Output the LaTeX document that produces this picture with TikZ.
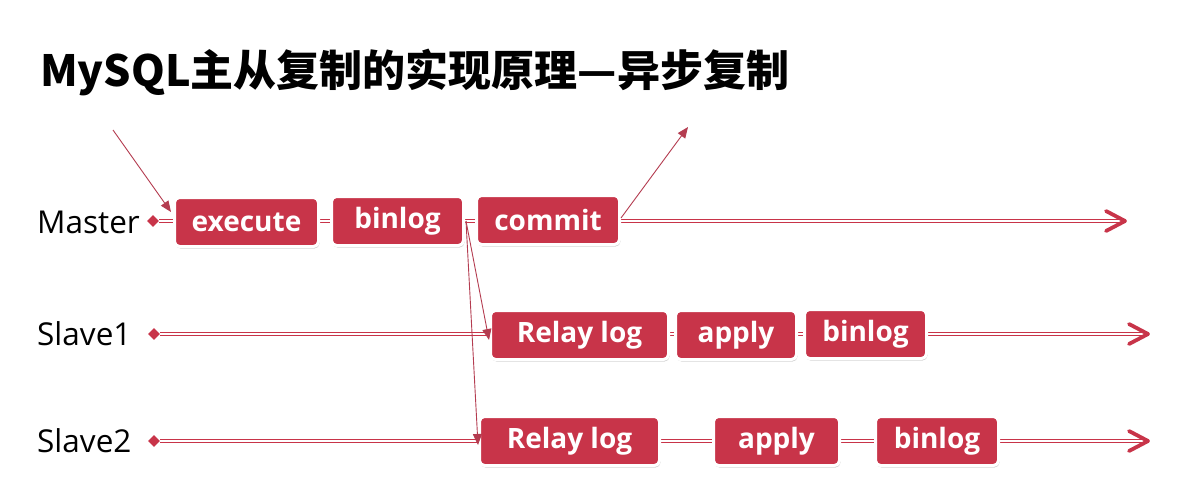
\documentclass[tikz,border=0pt]{standalone}
\usepackage{fontspec}
\setmainfont{Open Sans}
\newfontfamily\cjk{Noto Sans CJK SC}
\usetikzlibrary{shapes.geometric,shadows,arrows.meta}
\definecolor{myred}{RGB}{200,52,73}
\definecolor{thinred}{RGB}{180,60,80}
\tikzset{
  box/.style={rectangle, rounded corners=5pt, fill=myred, draw=white, line width=3pt,
    text=white, font=\fontsize{28}{30}\selectfont\bfseries, minimum height=49pt, inner sep=0pt,
    drop shadow={shadow xshift=1pt, shadow yshift=-2pt, opacity=0.3, fill=black!60}},
  timeline/.style={draw=myred, line width=1.5pt, double=white, double distance=1.6pt},
  chevron/.style={draw=myred, line width=3.8pt, line cap=round, line join=round},
  thinarrow/.style={draw=thinred, line width=0.9pt, -{Triangle[length=11pt,width=9pt]}},
  dia/.style={diamond, fill=myred, inner sep=0pt, minimum width=12pt, minimum height=12pt},
  rowlabel/.style={anchor=base west, font=\fontsize{31.5}{36}\selectfont, inner sep=0pt},
}
\begin{document}
\begin{tikzpicture}[x=1pt,y=-1pt]
\fill[white] (0,0) rectangle (1183,480);
\useasboundingbox (0,0) rectangle (1183,480);

\node[anchor=base west, inner sep=0pt, font=\cjk\bfseries\fontsize{43}{50}\selectfont] (title) at (40,86) {MySQL主从复制的实现原理—异步复制};

\node[rowlabel] (lm) at (37,233) {Master};
\node[rowlabel] (ls1) at (37,345) {Slave1};
\node[rowlabel] (ls2) at (37,452) {Slave2};

\node[dia] (m0) at (153,221) {};
\node[dia] (s10) at (154,334) {};
\node[dia] (s20) at (154,441) {};
\coordinate (m1) at (1125,221);
\coordinate (s11) at (1148,334);
\coordinate (s21) at (1148,441);

\draw[timeline] (m0.east) -- ([xshift=-2pt]m1);
\draw[timeline] (s10.east) -- ([xshift=-2pt]s11);
\draw[timeline] (s20.east) -- ([xshift=-2pt]s21);
\draw[chevron] ([xshift=-19pt,yshift=10pt]m1) -- (m1) -- ([xshift=-19pt,yshift=-10pt]m1);
\draw[chevron] ([xshift=-19pt,yshift=10pt]s11) -- (s11) -- ([xshift=-19pt,yshift=-10pt]s11);
\draw[chevron] ([xshift=-19pt,yshift=10pt]s21) -- (s21) -- ([xshift=-19pt,yshift=-10pt]s21);

\node[box, minimum width=144pt] (ex) at (246.5,222) {execute};
\node[box, minimum width=132pt] (bl) at (397.5,221) {binlog};
\node[box, minimum width=143pt] (cm) at (548,220) {commit};

\node[box, minimum width=178pt] (r1) at (579.5,335) {Relay log};
\node[box, minimum width=121pt] (a1) at (736,335) {apply};
\node[box, minimum width=122pt] (b1) at (865.5,334) {binlog};

\node[box, minimum width=180pt] (r2) at (569.5,441) {Relay log};
\node[box, minimum width=126pt] (a2) at (776.5,441) {apply};
\node[box, minimum width=123pt] (b2) at (937,441) {binlog};

\coordinate (src) at (113,130);
\coordinate (out) at (688,127);
\draw[thinarrow] (src) -- ([xshift=-2pt,yshift=10pt]ex.west);
\draw[thinarrow] ([yshift=2pt]cm.east) -- (out);
\draw[thinarrow] ([xshift=1pt]bl.east) -- ([yshift=-5pt]r1.west);
\draw[thinarrow] ([xshift=1pt]bl.east) -- ([yshift=-4pt]r2.west);
\end{tikzpicture}
\end{document}
